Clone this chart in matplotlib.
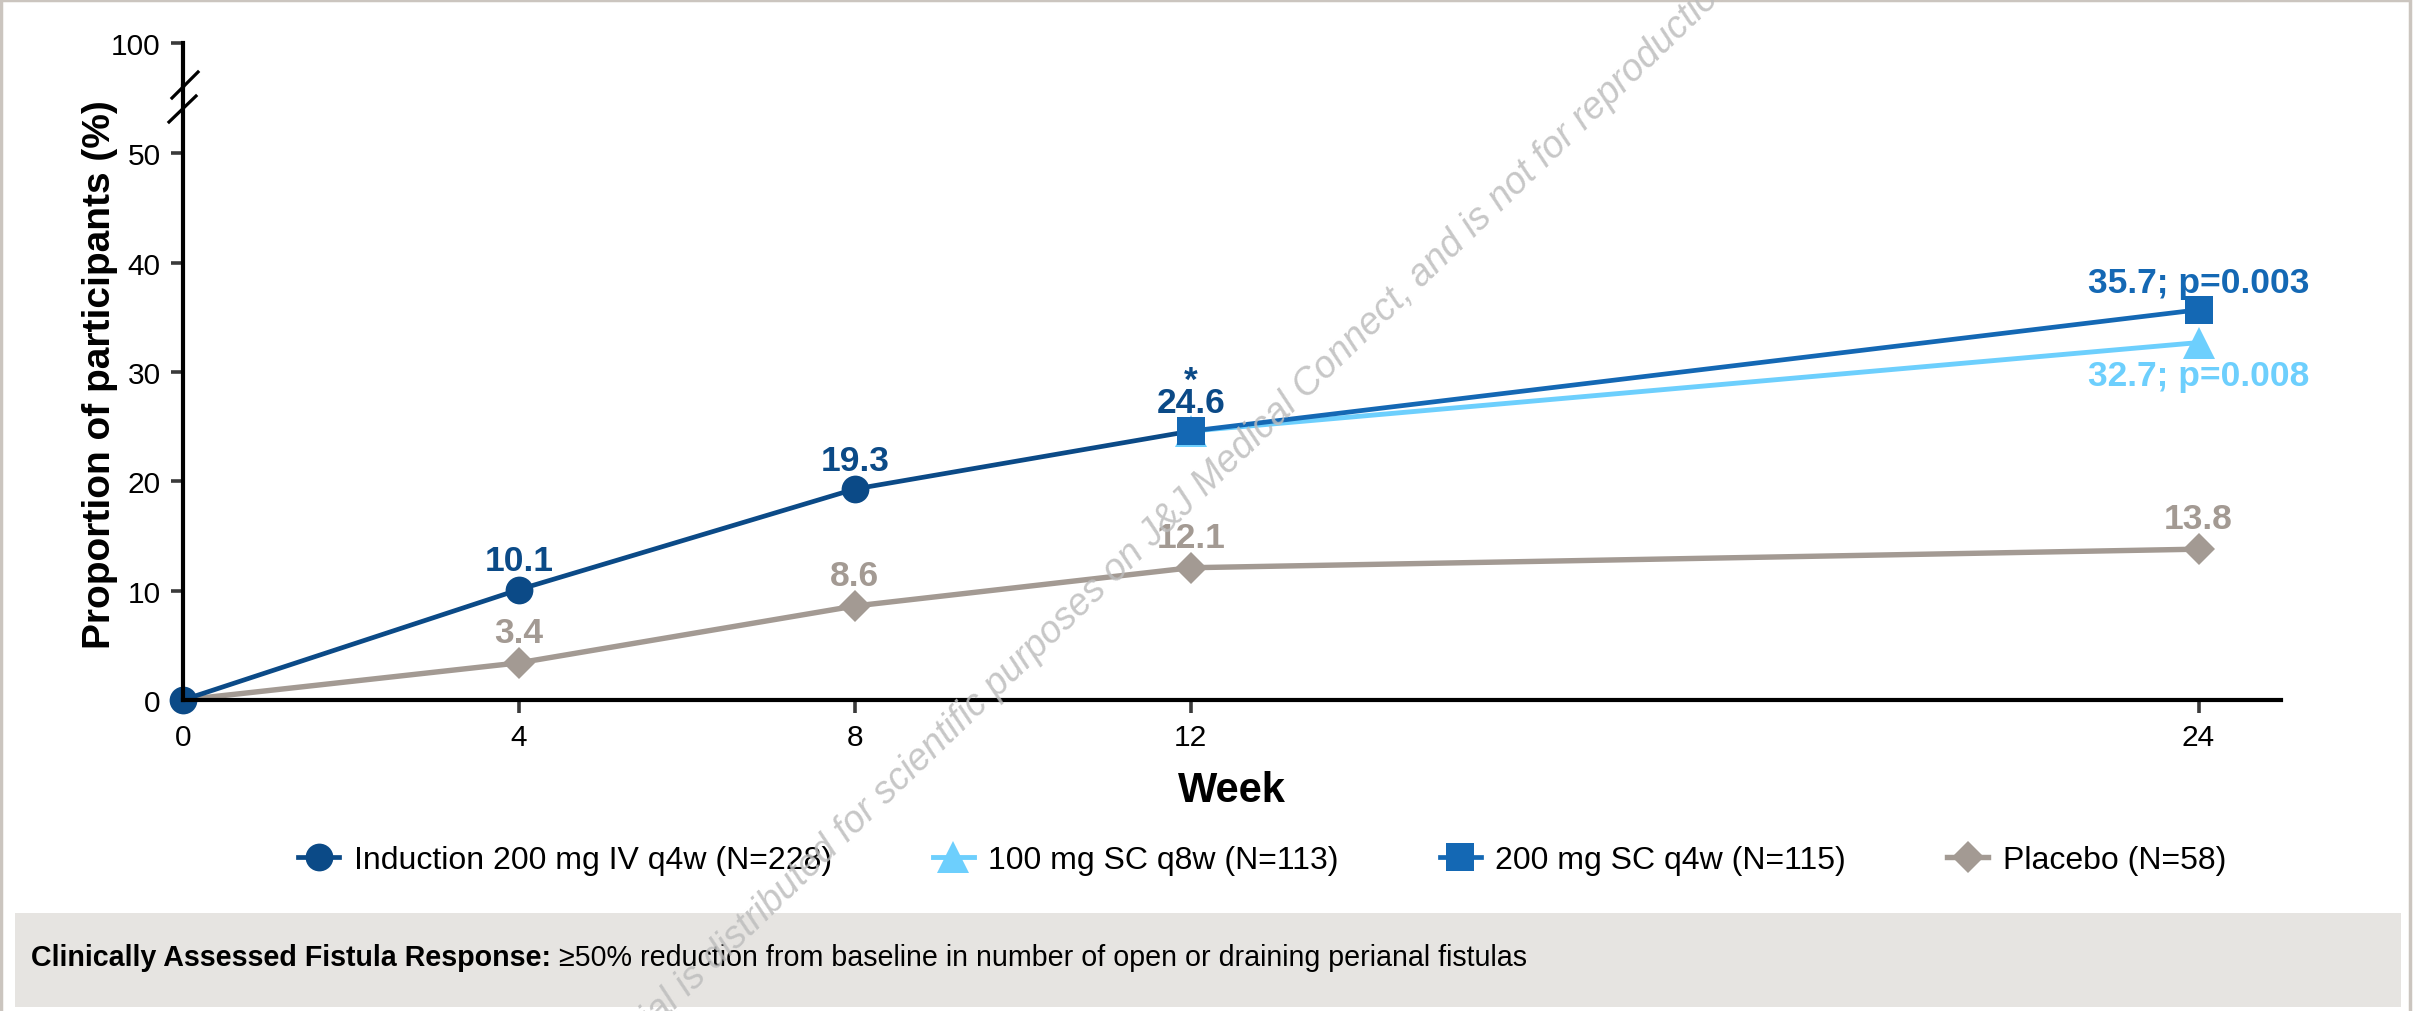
import matplotlib.pyplot as plt
from matplotlib.lines import Line2D
from matplotlib.patches import Rectangle

plt.rcParams['font.family'] = ['Liberation Sans', 'DejaVu Sans']

# response rates (%) by week
weeks_ind = [0, 4, 8, 12]
ind_vals = [0, 10.1, 19.3, 24.6]
weeks_maint = [12, 24]
sc100_vals = [24.6, 32.7]
sc200_vals = [24.6, 35.7]
weeks_pbo = [0, 4, 8, 12, 24]
pbo_vals = [0, 3.4, 8.6, 12.1, 13.8]

sc100_p = 'p=0.008'
sc200_p = 'p=0.003'

x_ticks = [0, 4, 8, 12, 24]
y_ticks = [0, 10, 20, 30, 40, 50]
y_top_tick = [100]

labels = ['Induction 200 mg IV q4w (N=228)', '100 mg SC q8w (N=113)',
          '200 mg SC q4w (N=115)', 'Placebo (N=58)']
footnote_bold = 'Clinically Assessed Fistula Response:'
footnote_rest = ' \u226550% reduction from baseline in number of open or draining perianal fistulas'

c_ind = '#0b4a87'
c_100 = '#6dcffd'
c_200 = '#1468b4'
c_pbo = '#a39a93'

fig = plt.figure(figsize=(24.13, 10.12), dpi=100)
ax = fig.add_axes([0.07584, 0.30731, 0.8694, 0.6067])
ax_top = fig.add_axes([0.07584, 0.91403, 0.8694, 0.0422])

# main panel
ax.plot(weeks_pbo, pbo_vals, color=c_pbo, lw=3.9, marker='D', ms=16.5, mew=0,
        markevery=[1, 2, 3, 4], zorder=2.1)
ax.plot(weeks_maint, sc100_vals, color=c_100, lw=3.5, marker='^', ms=23, mew=0,
        zorder=2.2, clip_on=False)
ax.plot(weeks_ind, ind_vals, color=c_ind, lw=3.4, marker='o', ms=20, mew=0,
        markevery=[0, 1, 2], zorder=2.3, clip_on=False)
ax.plot(weeks_maint, sc200_vals, color=c_200, lw=3.4, marker='s', ms=20, mew=0,
        zorder=2.4)

ax.set_xlim(0, 24.98)
ax.set_ylim(0, 56.17)
ax.set_xticks(x_ticks)
ax.set_yticks(y_ticks)
for s in ['top', 'right']:
    ax.spines[s].set_visible(False)
for s in ['left', 'bottom']:
    ax.spines[s].set_linewidth(3)
ax.tick_params(axis='both', direction='out', length=9, width=2.6, color='#3a3a3a',
               labelsize=21.5)
ax.tick_params(axis='y', pad=7)
ax.tick_params(axis='x', pad=7.5)
ax.set_xlabel('Week', fontsize=30, fontweight='bold', labelpad=14)
ax.set_ylabel('Proportion of participants (%)', fontsize=28, fontweight='bold')
ax.yaxis.set_label_coords(-0.031, 0.531)

# small panel above the break holding the 100 tick
ax_top.set_xlim(0, 24.98)
ax_top.set_ylim(96.09, 100)
ax_top.set_yticks(y_top_tick)
ax_top.xaxis.set_visible(False)
ax_top.patch.set_alpha(0)
for s in ['top', 'right', 'bottom']:
    ax_top.spines[s].set_visible(False)
ax_top.spines['left'].set_linewidth(3)
ax_top.tick_params(axis='y', direction='out', length=9, width=2.6, color='#3a3a3a',
                   labelsize=21.5, pad=7)

# break marks on the y axis
for (x0, y0), (x1, y1) in [((0.07128, 0.90217), (0.08206, 0.92787)),
                           ((0.07004, 0.87846), (0.08123, 0.90415))]:
    fig.add_artist(Line2D([x0, x1], [y0, y1], transform=fig.transFigure,
                          color='black', lw=2.3))


def label(x, y, s, color, dy, va='baseline'):
    ax.annotate(s, (x, y), xytext=(0, dy), textcoords='offset points',
                ha='center', va=va, fontsize=25.5, fontweight='bold', color=color)


for x, y in zip(weeks_ind[1:], ind_vals[1:]):
    label(x, y, f'{y}', c_ind, 14)
label(weeks_ind[-1], ind_vals[-1], '*', c_ind, 30)
for x, y in zip(weeks_pbo[1:], pbo_vals[1:]):
    label(x, y, f'{y}', c_pbo, 15)
label(weeks_maint[-1], sc200_vals[-1], f'{sc200_vals[-1]}; {sc200_p}', c_200, 13)
label(weeks_maint[-1], sc100_vals[-1], f'{sc100_vals[-1]}; {sc100_p}', c_100, -11.5, va='top')

# legend
handles = [
    Line2D([], [], color=c_ind, lw=3.4, marker='o', ms=20, mew=0),
    Line2D([], [], color=c_100, lw=3.5, marker='^', ms=23, mew=0),
    Line2D([], [], color=c_200, lw=3.4, marker='s', ms=20, mew=0),
    Line2D([], [], color=c_pbo, lw=3.9, marker='D', ms=16.5, mew=0),
]
fig.legend(handles, labels, loc='center', bbox_to_anchor=(0.523, 0.149), ncol=4,
           frameon=False, fontsize=23, handlelength=1.3, handletextpad=0.45,
           columnspacing=3.15)

# footnote box
fig.add_artist(Rectangle((0.0062, 0.004), 0.9888, 0.0929, transform=fig.transFigure,
                         facecolor='#e6e4e1', edgecolor='none', zorder=0))
t1 = fig.text(0.0128, 0.0535, footnote_bold, fontsize=20.6, fontweight='bold', va='center')
ax.annotate(footnote_rest, xy=(1, 0.5), xycoords=t1, va='center', ha='left',
            fontsize=20.6, annotation_clip=False)

# outer frame
fig.add_artist(Rectangle((0.0006, -0.01), 0.998, 1.009, transform=fig.transFigure,
                         fill=False, edgecolor='#cbc5bf', lw=2.5))

# watermark
fig.text(0.2180, -0.1400,
         'This material is distributed for scientific purposes on J&J Medical Connect, '
         'and is not for reproduction',
         rotation=44, rotation_mode='anchor', ha='left', va='baseline', fontsize=27,
         style='italic', color='#bdbdbd', alpha=0.85, zorder=10)

fig.savefig('out.png', dpi=100)
